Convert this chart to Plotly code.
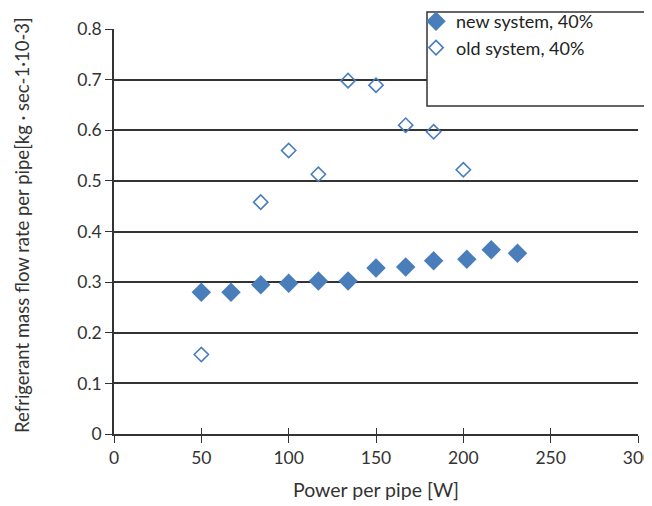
import plotly.graph_objects as go

new_x = [50, 67, 84, 100, 117, 134, 150, 167, 183, 202, 216, 231]
new_y = [0.280, 0.280, 0.295, 0.298, 0.302, 0.302, 0.328, 0.330, 0.342, 0.345, 0.364, 0.357]
old_x = [50, 84, 100, 117, 134, 150, 167, 183, 200]
old_y = [0.157, 0.458, 0.560, 0.513, 0.698, 0.689, 0.610, 0.597, 0.522]

x_ticks = [0, 50, 100, 150, 200, 250, 300]
y_ticks = [0, 0.1, 0.2, 0.3, 0.4, 0.5, 0.6, 0.7, 0.8]
y_tick_labels = ["0", "0.1", "0.2", "0.3", "0.4", "0.5", "0.6", "0.7", "0.8"]
y_title = "Refrigerant mass flow rate per pipe[kg · sec-1·10-3]"
x_title = "Power per pipe [W]"

BLUE = "#4A7EBB"
FONT = "Lato"
AX = "#333333"

# page has an 8px body margin
OFF = 8
W, H = 652, 498
# plot area in page pixels: left 114, right 638, top 29, bottom 434
L = 114 - OFF
R = W - (638 - OFF)
T = 29 - OFF
B = H - (434 - OFF)

pw = W - L - R
ph = H - T - B
def px_x(p):
    return (p - OFF - L) / pw
def px_y(p):
    return (H - B - (p - OFF)) / ph

fig = go.Figure()
fig.add_trace(go.Scatter(
    x=new_x, y=new_y, mode="markers", name="new system, 40%",
    marker=dict(symbol="diamond", size=15, color=BLUE, line=dict(width=0)),
))
fig.add_trace(go.Scatter(
    x=old_x, y=old_y, mode="markers", name="old system, 40%",
    marker=dict(symbol="diamond-open", size=11, color=BLUE, line=dict(width=1.6, color=BLUE)),
))
# invisible helper trace for the inner tick half of the crossing x ticks
fig.add_trace(go.Scatter(x=[None], y=[None], xaxis="x2", yaxis="y",
                         showlegend=False, hoverinfo="skip", mode="markers"))

fig.add_shape(type="rect", xref="paper", yref="paper",
              x0=px_x(427), x1=px_x(665), y0=px_y(106), y1=px_y(12),
              line=dict(color=AX, width=1.5), fillcolor="white", layer="above")

fig.add_annotation(text=y_title, xref="paper", yref="paper",
                   x=px_x(22), y=px_y(225), xanchor="center", yanchor="middle",
                   textangle=-90, showarrow=False,
                   font=dict(size=18.5, family=FONT, color=AX))

fig.update_layout(
    width=W, height=H,
    margin=dict(l=L, r=R, t=T, b=B, autoexpand=False),
    paper_bgcolor="white", plot_bgcolor="white",
    font=dict(family=FONT, size=18, color=AX),
    showlegend=True,
    legend=dict(x=px_x(416), y=px_y(3), xanchor="left", yanchor="top",
                bgcolor="rgba(0,0,0,0)", borderwidth=0,
                font=dict(family=FONT, size=18, color="#222222"),
                itemwidth=30, tracegroupgap=0),
    xaxis=dict(
        range=[0, 300], tickvals=x_ticks, ticks="outside", ticklen=7, tickwidth=1.3,
        tickcolor=AX, showline=True, linecolor=AX, linewidth=1.5,
        showgrid=False, zeroline=False, automargin=False, ticklabeloverflow="allow",
        title=dict(text=x_title, font=dict(size=19.5, family=FONT), standoff=17),
        tickfont=dict(size=17.5, family=FONT, color=AX),
    ),
    xaxis2=dict(
        range=[0, 300], tickvals=x_ticks, ticks="inside", ticklen=6, tickwidth=1.3,
        tickcolor=AX, showline=False, showgrid=False, zeroline=False,
        showticklabels=False, overlaying="x", side="bottom", automargin=False,
    ),
    yaxis=dict(
        range=[0, 0.8], tickvals=y_ticks, ticktext=y_tick_labels, ticks="outside", ticklen=7,
        tickwidth=1.3, tickcolor=AX, showline=True, linecolor=AX, linewidth=1.5,
        showgrid=True, gridcolor=AX, gridwidth=1.5, zeroline=False, automargin=False,
        tickfont=dict(size=17.5, family=FONT, color=AX),
    ),
)

fig.write_html("out.html")
